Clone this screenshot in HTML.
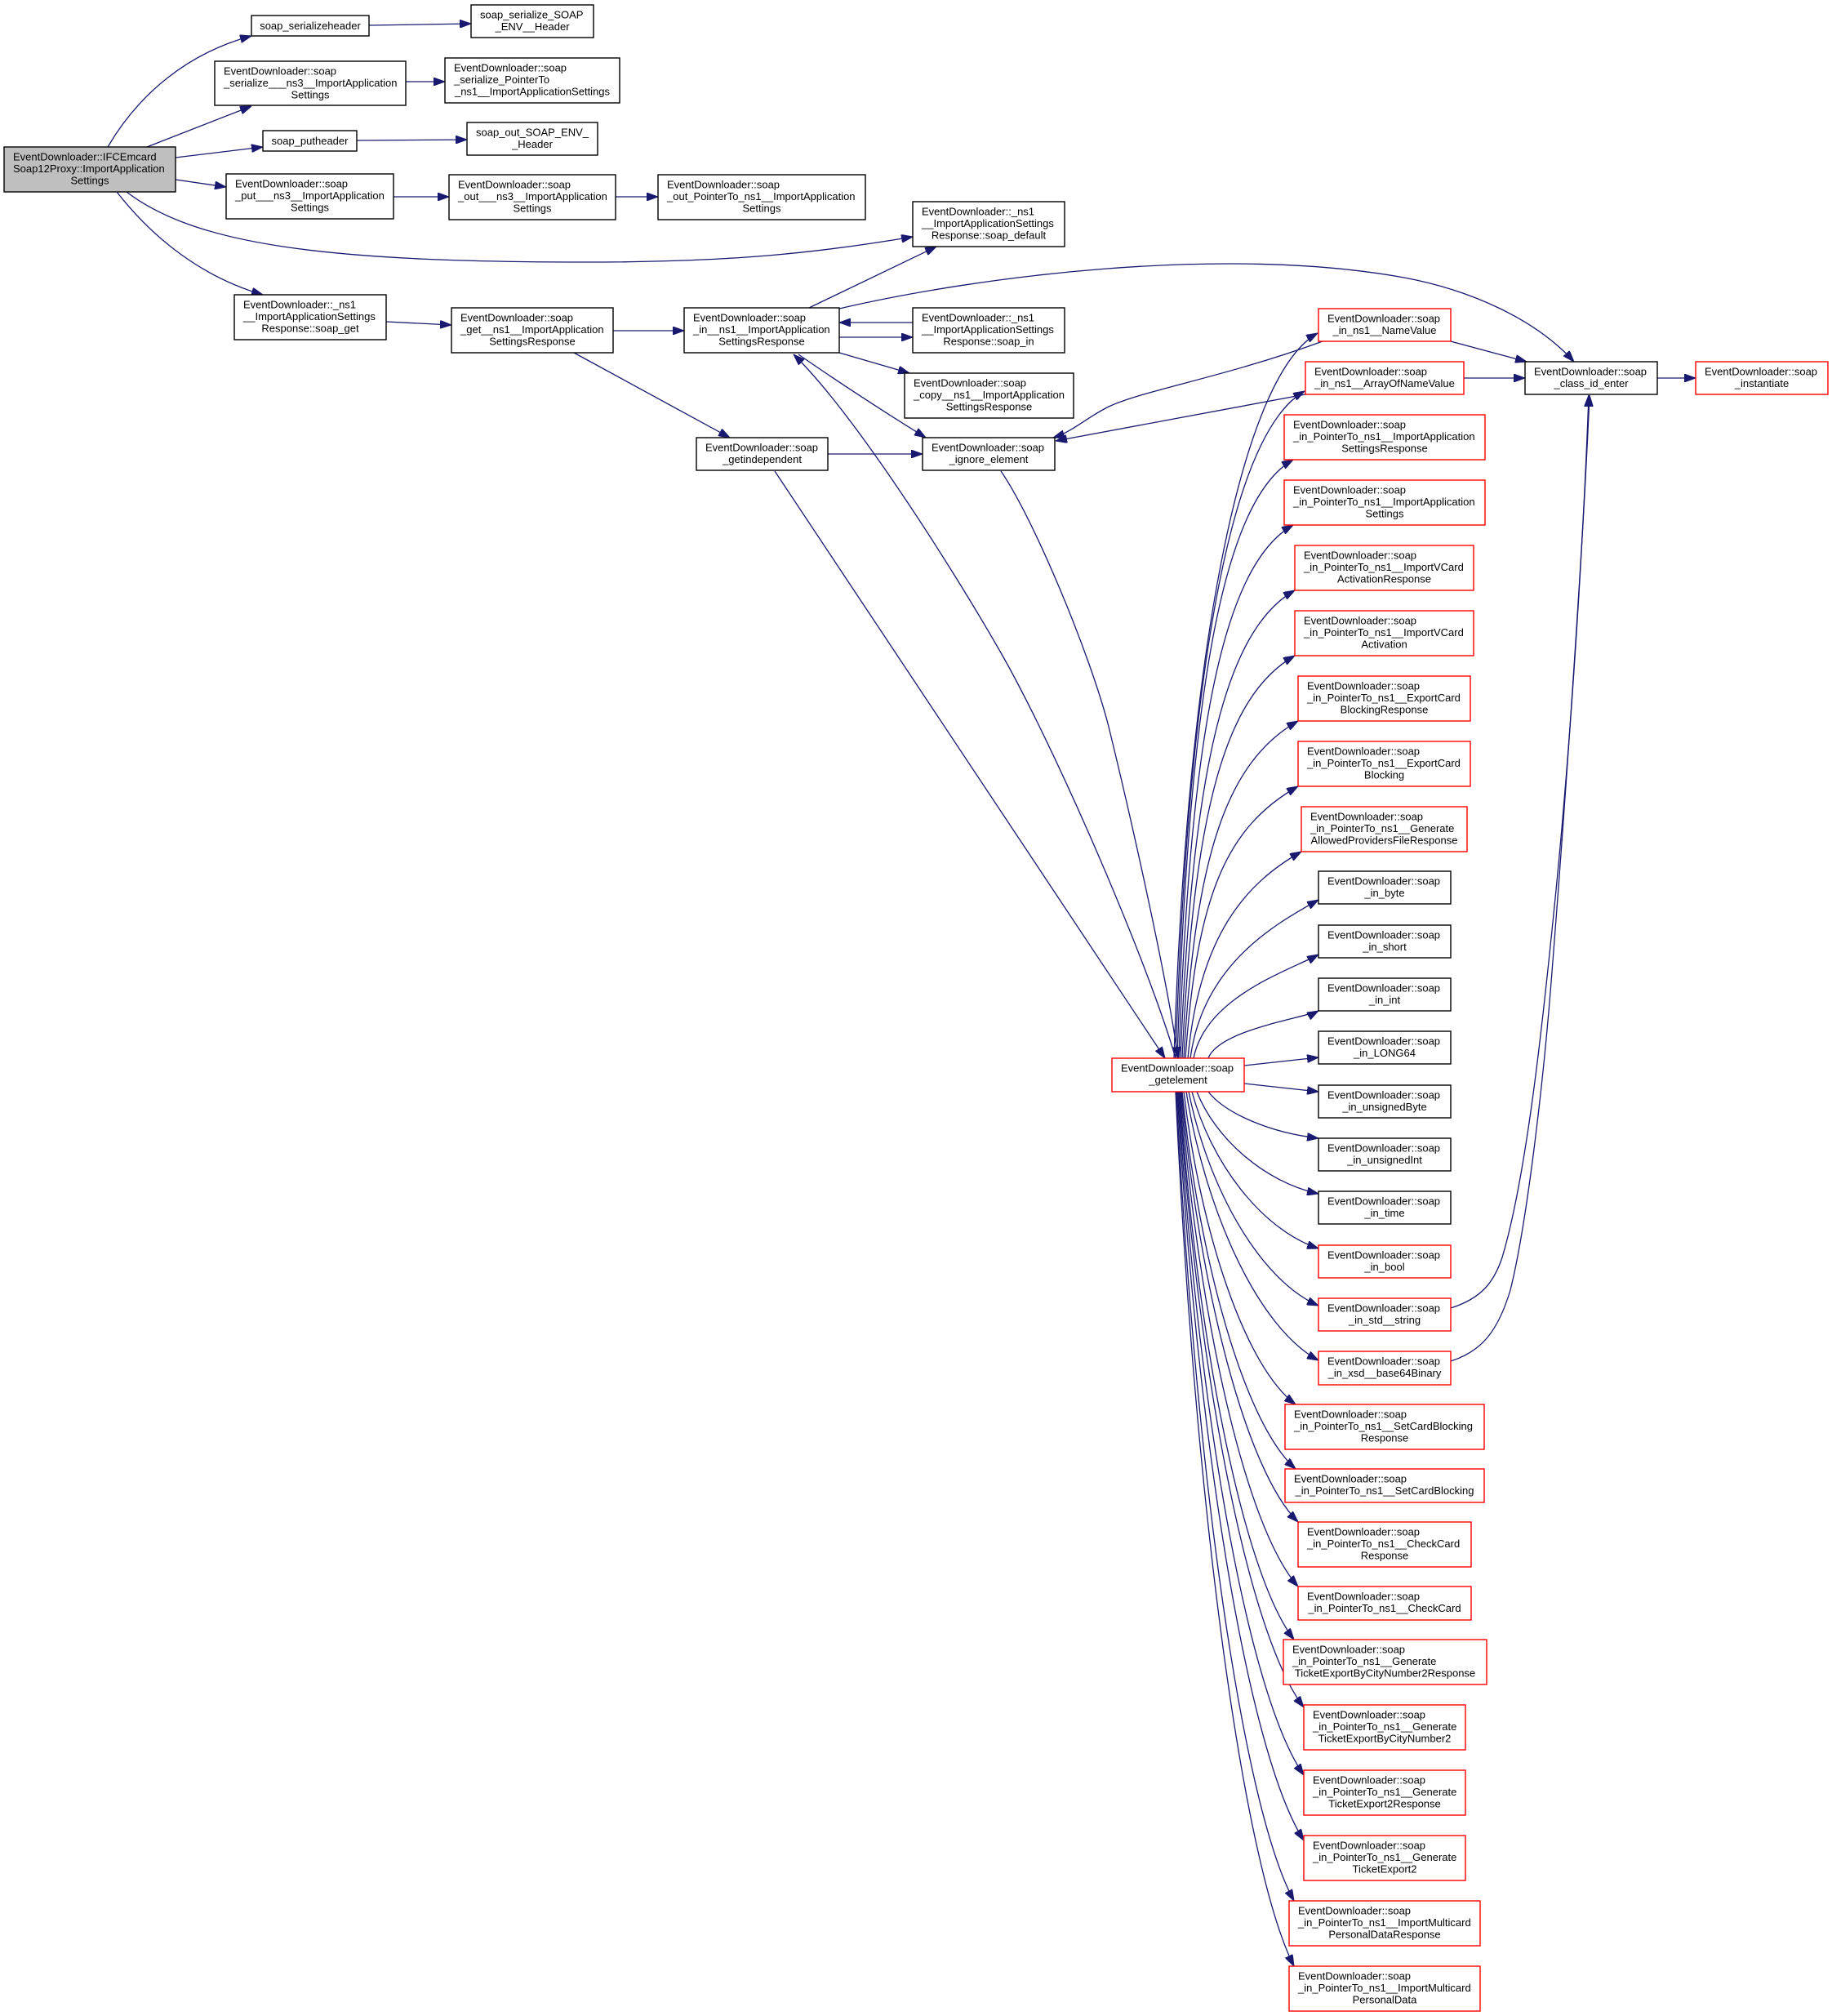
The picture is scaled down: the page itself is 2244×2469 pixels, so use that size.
<!DOCTYPE html>
<html><head><meta charset="utf-8"><style>
html,body{margin:0;padding:0;background:#fff}
svg{display:block}
text{font-family:"Liberation Sans",Arial,Helvetica,sans-serif;font-size:13px;fill:#000}
.m{text-anchor:middle}
.b{fill:#fff;stroke:#000;stroke-width:1.4}
.r{fill:#fff;stroke:#ff0000;stroke-width:1.4}
.e{fill:none;stroke:#191970;stroke-width:1.3}
</style></head><body>
<svg width="2244" height="2469" viewBox="0 0 2244 2469" xmlns="http://www.w3.org/2000/svg">
<defs><marker id="a" viewBox="0 0 14 10" refX="14" refY="5" markerWidth="14" markerHeight="10" markerUnits="userSpaceOnUse" orient="auto"><path d="M0,0L14,5L0,10z" fill="#191970" stroke="#191970" stroke-width="1"/></marker></defs>
<g class="e" marker-end="url(#a)">
<path d="M132,180 C170,115 230,65 308,44"/>
<path d="M180,180 L308,130"/>
<path d="M215,193 L322,180"/>
<path d="M215,220 L277,229"/>
<path d="M155,235 C240,300 400,322 740,321 C900,320 1000,310 1118,290"/>
<path d="M143,235 C190,295 250,340 322,361"/>
<path d="M452,31 L577,29"/>
<path d="M497,100 L545,100"/>
<path d="M437,172 L572,171"/>
<path d="M482,241 L550,241"/>
<path d="M754,241 L806,241"/>
<path d="M473,394 L553,398"/>
<path d="M751,405 L838,405"/>
<path d="M703,432 L894,536"/>
<path d="M991,377 L1147,302"/>
<path d="M1028,378 C1200,338 1500,300 1720,340 C1800,355 1880,390 1928,443"/>
<path d="M1118,395 L1028,395"/>
<path d="M1028,413 L1118,413"/>
<path d="M1028,432 L1114,457"/>
<path d="M978,434 Q1050,484 1134,536"/>
<path d="M1440,1296 C1405,1175 1290,910 1224,796 C1162,688 1045,505 972,434"/>
<path d="M1014,556 L1130,556"/>
<path d="M949,577 L1427,1296"/>
<path d="M1226,577 C1265,633 1335,800 1358,890 C1385,1000 1430,1200 1443,1296"/>
<path d="M1620,418 C1500,462 1400,478 1358,498 C1330,512 1315,528 1290,536"/>
<path d="M1599,483 L1293,540"/>
<path d="M1777,418 L1870,443"/>
<path d="M1793,463 L1868,463"/>
<path d="M2030,463 L2077,463"/>
<path d="M1777,1602 C1815,1590 1830,1570 1840,1540 C1870,1440 1890,1250 1905,1100 C1925,900 1940,650 1946,484"/>
<path d="M1777,1667 C1815,1655 1835,1630 1850,1580 C1870,1500 1890,1330 1900,1203 C1920,950 1940,650 1947,484"/>
<path d="M1438,1296 C1455.5,762.6 1526,457 1614,408"/>
<path d="M1440,1296 C1455.7,805.8 1510,529 1598,479"/>
<path d="M1442,1296 C1456,856 1496,613 1584,563"/>
<path d="M1444,1296 C1458,904 1496,693 1584,643"/>
<path d="M1446,1296 C1460,952 1498,773 1586,723"/>
<path d="M1448,1296 C1462,1000 1498,853 1586,803"/>
<path d="M1450,1296 C1464,1048 1502,933 1590,883"/>
<path d="M1452,1296 C1466,1096 1502,1013 1590,963"/>
<path d="M1455,1296 C1469,1144 1527,1081 1594,1043"/>
<path d="M1458,1296 C1473.6,1180 1563.5,1131 1615,1102"/>
<path d="M1462,1296 C1477,1220 1581,1188 1615,1169"/>
<path d="M1480,1296 C1493,1261 1599,1246.5 1615,1238"/>
<path d="M1524,1305 L1615,1295"/>
<path d="M1524,1327 L1615,1337"/>
<path d="M1480,1337 C1500,1362.7 1553.7,1387 1615,1394"/>
<path d="M1466,1337 C1488,1393 1547,1447 1615,1462"/>
<path d="M1460,1337 C1483,1423 1545,1506 1615,1529"/>
<path d="M1456,1337 C1480,1455 1543,1567.6 1615,1599"/>
<path d="M1453,1337 C1477,1485 1541.5,1626.5 1615,1666"/>
<path d="M1450,1337 C1470.5,1509 1525,1674 1587,1720"/>
<path d="M1448,1337 C1469,1545 1524.5,1743.6 1587,1799"/>
<path d="M1447,1337 C1468.5,1574 1525.6,1800.8 1590,1864"/>
<path d="M1446,1337 C1467.6,1609.7 1525,1870.3 1590,1943"/>
<path d="M1445,1337 C1466,1638.5 1522,1926.6 1585,2008"/>
<path d="M1444,1337 C1466.8,1676.3 1527.6,2000.5 1597,2091"/>
<path d="M1443,1337 C1466,1713.6 1527,2073.6 1597,2174"/>
<path d="M1442,1337 C1465,1749.6 1526.7,2144 1597,2254"/>
<path d="M1441,1337 C1462.6,1783 1520,2209 1585,2328"/>
<path d="M1440,1337 C1462,1818.5 1519.75,2278.6 1585,2408"/>
</g>

<!-- nodes -->
<rect x="5" y="180" width="210" height="55" fill="#bfbfbf" stroke="#000" stroke-width="1.4"/>
<text x="16" y="196.5">EventDownloader::IFCEmcard</text><text x="16" y="211">Soap12Proxy::ImportApplication</text><text class="m" x="110" y="225.5">Settings</text>

<rect class="b" x="308" y="19" width="144" height="25"/><text class="m" x="380" y="36">soap_serializeheader</text>

<rect class="b" x="263" y="75" width="234" height="54"/>
<text x="274" y="91.5">EventDownloader::soap</text><text x="274" y="106">_serialize___ns3__ImportApplication</text><text class="m" x="380" y="120.5">Settings</text>

<rect class="b" x="322" y="160" width="115" height="25"/><text class="m" x="379.5" y="177">soap_putheader</text>

<rect class="b" x="277" y="213" width="205" height="55"/>
<text x="288" y="229.5">EventDownloader::soap</text><text x="288" y="244">_put___ns3__ImportApplication</text><text class="m" x="379.5" y="258.5">Settings</text>

<rect class="b" x="287" y="361" width="186" height="55"/>
<text x="298" y="377.5">EventDownloader::_ns1</text><text x="298" y="392">__ImportApplicationSettings</text><text class="m" x="380" y="406.5">Response::soap_get</text>

<rect class="b" x="577" y="6" width="150" height="40"/>
<text x="588" y="22.5">soap_serialize_SOAP</text><text class="m" x="652" y="37">_ENV__Header</text>

<rect class="b" x="545" y="71" width="214" height="55"/>
<text x="556" y="87.5">EventDownloader::soap</text><text x="556" y="102">_serialize_PointerTo</text><text class="m" x="652" y="116.5">_ns1__ImportApplicationSettings</text>

<rect class="b" x="572" y="150" width="160" height="40"/>
<text x="583" y="166.5">soap_out_SOAP_ENV_</text><text class="m" x="652" y="181">_Header</text>

<rect class="b" x="550" y="214" width="204" height="55"/>
<text x="561" y="230.5">EventDownloader::soap</text><text x="561" y="245">_out___ns3__ImportApplication</text><text class="m" x="652" y="259.5">Settings</text>

<rect class="b" x="553" y="377" width="198" height="55"/>
<text x="564" y="393.5">EventDownloader::soap</text><text x="564" y="408">_get__ns1__ImportApplication</text><text class="m" x="652" y="422.5">SettingsResponse</text>

<rect class="b" x="806" y="214" width="254" height="55"/>
<text x="817" y="230.5">EventDownloader::soap</text><text x="817" y="245">_out_PointerTo_ns1__ImportApplication</text><text class="m" x="933" y="259.5">Settings</text>

<rect class="b" x="838" y="377" width="190" height="55"/>
<text x="849" y="393.5">EventDownloader::soap</text><text x="849" y="408">_in__ns1__ImportApplication</text><text class="m" x="933" y="422.5">SettingsResponse</text>

<rect class="b" x="853" y="536" width="161" height="40"/>
<text x="864" y="552.5">EventDownloader::soap</text><text class="m" x="933.5" y="567">_getindependent</text>

<rect class="b" x="1118" y="247" width="186" height="55"/>
<text x="1129" y="263.5">EventDownloader::_ns1</text><text x="1129" y="278">__ImportApplicationSettings</text><text class="m" x="1211" y="292.5">Response::soap_default</text>

<rect class="b" x="1118" y="377" width="186" height="55"/>
<text x="1129" y="393.5">EventDownloader::_ns1</text><text x="1129" y="408">__ImportApplicationSettings</text><text class="m" x="1211" y="422.5">Response::soap_in</text>

<rect class="b" x="1108" y="457" width="207" height="55"/>
<text x="1119" y="473.5">EventDownloader::soap</text><text x="1119" y="488">_copy__ns1__ImportApplication</text><text class="m" x="1211.5" y="502.5">SettingsResponse</text>

<rect class="b" x="1130" y="536" width="162" height="40"/>
<text x="1141" y="552.5">EventDownloader::soap</text><text class="m" x="1211" y="567">_ignore_element</text>

<rect class="r" x="1362" y="1296" width="162" height="41"/>
<text x="1373" y="1312.5">EventDownloader::soap</text><text class="m" x="1443" y="1327">_getelement</text>

<rect class="b" x="1868" y="443" width="162" height="40"/>
<text x="1879" y="459.5">EventDownloader::soap</text><text class="m" x="1949" y="474">_class_id_enter</text>

<rect class="r" x="2077" y="443" width="162" height="40"/>
<text x="2088" y="459.5">EventDownloader::soap</text><text class="m" x="2158" y="474">_instantiate</text>

<rect class="r" x="1615" y="378" width="162" height="40"/>
<text x="1626" y="394.5">EventDownloader::soap</text><text class="m" x="1696" y="409">_in_ns1__NameValue</text>

<rect class="r" x="1599" y="443" width="194" height="40"/>
<text x="1610" y="459.5">EventDownloader::soap</text><text class="m" x="1696" y="474">_in_ns1__ArrayOfNameValue</text>

<rect class="r" x="1573" y="508" width="246" height="55"/>
<text x="1584" y="524.5">EventDownloader::soap</text><text x="1584" y="539">_in_PointerTo_ns1__ImportApplication</text><text class="m" x="1696" y="553.5">SettingsResponse</text>

<rect class="r" x="1573" y="588" width="246" height="55"/>
<text x="1584" y="604.5">EventDownloader::soap</text><text x="1584" y="619">_in_PointerTo_ns1__ImportApplication</text><text class="m" x="1696" y="633.5">Settings</text>

<rect class="r" x="1586" y="668" width="219" height="55"/>
<text x="1597" y="684.5">EventDownloader::soap</text><text x="1597" y="699">_in_PointerTo_ns1__ImportVCard</text><text class="m" x="1695.5" y="713.5">ActivationResponse</text>

<rect class="r" x="1586" y="748" width="219" height="55"/>
<text x="1597" y="764.5">EventDownloader::soap</text><text x="1597" y="779">_in_PointerTo_ns1__ImportVCard</text><text class="m" x="1695.5" y="793.5">Activation</text>

<rect class="r" x="1590" y="828" width="211" height="55"/>
<text x="1601" y="844.5">EventDownloader::soap</text><text x="1601" y="859">_in_PointerTo_ns1__ExportCard</text><text class="m" x="1695.5" y="873.5">BlockingResponse</text>

<rect class="r" x="1590" y="908" width="211" height="55"/>
<text x="1601" y="924.5">EventDownloader::soap</text><text x="1601" y="939">_in_PointerTo_ns1__ExportCard</text><text class="m" x="1695.5" y="953.5">Blocking</text>

<rect class="r" x="1594" y="988" width="203" height="55"/>
<text x="1605" y="1004.5">EventDownloader::soap</text><text x="1605" y="1019">_in_PointerTo_ns1__Generate</text><text class="m" x="1695.5" y="1033.5">AllowedProvidersFileResponse</text>

<rect class="b" x="1615" y="1067" width="162" height="40"/>
<text x="1626" y="1083.5">EventDownloader::soap</text><text class="m" x="1696" y="1098">_in_byte</text>

<rect class="b" x="1615" y="1133" width="162" height="40"/>
<text x="1626" y="1149.5">EventDownloader::soap</text><text class="m" x="1696" y="1164">_in_short</text>

<rect class="b" x="1615" y="1198" width="162" height="40"/>
<text x="1626" y="1214.5">EventDownloader::soap</text><text class="m" x="1696" y="1229">_in_int</text>

<rect class="b" x="1615" y="1263" width="162" height="40"/>
<text x="1626" y="1279.5">EventDownloader::soap</text><text class="m" x="1696" y="1294">_in_LONG64</text>

<rect class="b" x="1615" y="1329" width="162" height="40"/>
<text x="1626" y="1345.5">EventDownloader::soap</text><text class="m" x="1696" y="1360">_in_unsignedByte</text>

<rect class="b" x="1615" y="1394" width="162" height="40"/>
<text x="1626" y="1410.5">EventDownloader::soap</text><text class="m" x="1696" y="1425">_in_unsignedInt</text>

<rect class="b" x="1615" y="1459" width="162" height="40"/>
<text x="1626" y="1475.5">EventDownloader::soap</text><text class="m" x="1696" y="1490">_in_time</text>

<rect class="r" x="1615" y="1525" width="162" height="40"/>
<text x="1626" y="1541.5">EventDownloader::soap</text><text class="m" x="1696" y="1556">_in_bool</text>

<rect class="r" x="1615" y="1590" width="162" height="40"/>
<text x="1626" y="1606.5">EventDownloader::soap</text><text class="m" x="1696" y="1621">_in_std__string</text>

<rect class="r" x="1615" y="1655" width="162" height="41"/>
<text x="1626" y="1671.5">EventDownloader::soap</text><text class="m" x="1696" y="1686">_in_xsd__base64Binary</text>

<rect class="r" x="1574" y="1720" width="244" height="55"/>
<text x="1585" y="1736.5">EventDownloader::soap</text><text x="1585" y="1751">_in_PointerTo_ns1__SetCardBlocking</text><text class="m" x="1696" y="1765.5">Response</text>

<rect class="r" x="1574" y="1799" width="244" height="41"/>
<text x="1585" y="1815.5">EventDownloader::soap</text><text class="m" x="1696" y="1830">_in_PointerTo_ns1__SetCardBlocking</text>

<rect class="r" x="1590" y="1864" width="212" height="55"/>
<text x="1601" y="1880.5">EventDownloader::soap</text><text x="1601" y="1895">_in_PointerTo_ns1__CheckCard</text><text class="m" x="1696" y="1909.5">Response</text>

<rect class="r" x="1590" y="1943" width="212" height="41"/>
<text x="1601" y="1959.5">EventDownloader::soap</text><text class="m" x="1696" y="1974">_in_PointerTo_ns1__CheckCard</text>

<rect class="r" x="1572" y="2008" width="249" height="55"/>
<text x="1583" y="2024.5">EventDownloader::soap</text><text x="1583" y="2039">_in_PointerTo_ns1__Generate</text><text class="m" x="1696.5" y="2053.5">TicketExportByCityNumber2Response</text>

<rect class="r" x="1597" y="2088" width="198" height="55"/>
<text x="1608" y="2104.5">EventDownloader::soap</text><text x="1608" y="2119">_in_PointerTo_ns1__Generate</text><text class="m" x="1696" y="2133.5">TicketExportByCityNumber2</text>

<rect class="r" x="1597" y="2168" width="198" height="55"/>
<text x="1608" y="2184.5">EventDownloader::soap</text><text x="1608" y="2199">_in_PointerTo_ns1__Generate</text><text class="m" x="1696" y="2213.5">TicketExport2Response</text>

<rect class="r" x="1597" y="2248" width="198" height="55"/>
<text x="1608" y="2264.5">EventDownloader::soap</text><text x="1608" y="2279">_in_PointerTo_ns1__Generate</text><text class="m" x="1696" y="2293.5">TicketExport2</text>

<rect class="r" x="1579" y="2328" width="234" height="55"/>
<text x="1590" y="2344.5">EventDownloader::soap</text><text x="1590" y="2359">_in_PointerTo_ns1__ImportMulticard</text><text class="m" x="1696" y="2373.5">PersonalDataResponse</text>

<rect class="r" x="1579" y="2408" width="234" height="55"/>
<text x="1590" y="2424.5">EventDownloader::soap</text><text x="1590" y="2439">_in_PointerTo_ns1__ImportMulticard</text><text class="m" x="1696" y="2453.5">PersonalData</text>
</svg>
</body></html>
